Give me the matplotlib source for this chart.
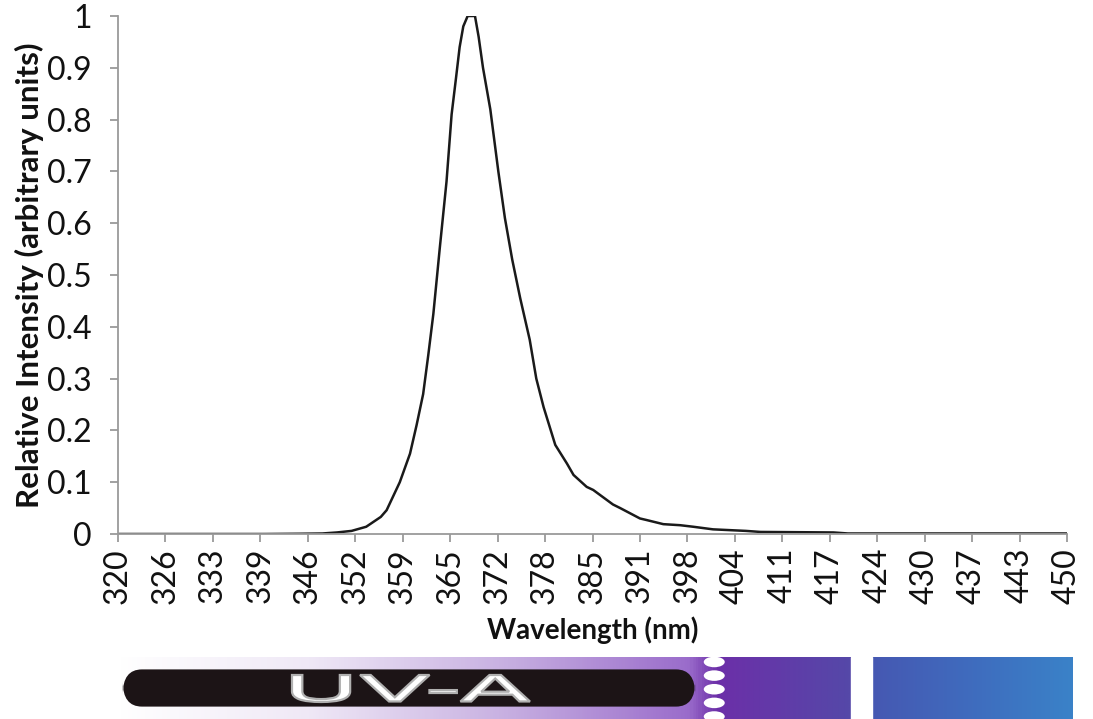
import matplotlib
matplotlib.use("Agg")
import matplotlib.pyplot as plt
import numpy as np
from matplotlib.colors import LinearSegmentedColormap
from matplotlib.patches import FancyBboxPatch, Ellipse, PathPatch
from matplotlib.textpath import TextPath
from matplotlib.font_manager import FontProperties
from matplotlib.transforms import Affine2D, IdentityTransform

plt.rcParams['font.family'] = ['Lato', 'DejaVu Sans']

# spectrum
wavelength = [320, 330, 340, 345, 348, 350, 352, 354, 356, 356.8, 357.6, 358.6, 360, 360.9,
              361.8, 362.5, 363.2, 364.1, 365.0, 365.7, 366.3, 366.8, 367.3, 367.9, 368.9,
              369.4, 370.0, 371.0, 372.1, 373.0, 374.0, 375.1, 376.4, 377.3, 378.3, 379.9,
              381.5, 382.4, 384.2, 385.1, 387.8, 388.8, 391.5, 392.4, 394.7, 397.0, 398.8,
              401.5, 406, 408, 418, 420, 435, 450]
intensity = [0, 0, 0, 0.0005, 0.001, 0.003, 0.006, 0.014, 0.033, 0.046, 0.07, 0.10, 0.155, 0.21,
             0.27, 0.345, 0.425, 0.555, 0.68, 0.81, 0.88, 0.94, 0.98, 1.0, 1.0,
             0.96, 0.90, 0.82, 0.70, 0.61, 0.53, 0.455, 0.375, 0.30, 0.245, 0.172,
             0.136, 0.114, 0.091, 0.085, 0.057, 0.050, 0.030, 0.027, 0.019, 0.017, 0.014,
             0.009, 0.006, 0.004, 0.003, 0.001, 0.001, 0.001]

xtick_pos = [320 + 6.5 * i for i in range(21)]
xtick_labels = ["320", "326", "333", "339", "346", "352", "359", "365", "372", "378", "385",
                "391", "398", "404", "411", "417", "424", "430", "437", "443", "450"]
ytick_pos = [0, 0.1, 0.2, 0.3, 0.4, 0.5, 0.6, 0.7, 0.8, 0.9, 1.0]
ytick_labels = ["0", "0.1", "0.2", "0.3", "0.4", "0.5", "0.6", "0.7", "0.8", "0.9", "1"]

W, H = 1093, 719
fig = plt.figure(figsize=(W / 100, H / 100), dpi=100)

# main plot
ax = fig.add_axes([118 / W, 1 - 534 / H, (1067 - 118) / W, (534 - 16) / H])
ax.plot(wavelength, intensity, color="#1a1a1a", lw=1.8)
ax.set_xlim(320, 450)
ax.set_ylim(0, 1)
ax.set_xticks(xtick_pos)
ax.set_xticklabels(xtick_labels, rotation=90)
ax.set_yticks(ytick_pos)
ax.set_yticklabels(ytick_labels)
for s in ["top", "right"]:
    ax.spines[s].set_visible(False)
for s in ["left", "bottom"]:
    ax.spines[s].set_color("#9a9a9a")
    ax.spines[s].set_linewidth(1.3)
ax.tick_params(axis="both", colors="#9a9a9a", length=6, width=1.3, labelsize=23,
               labelcolor="#111111")
ax.tick_params(axis="y", pad=13)
ax.tick_params(axis="x", pad=4)
ax.set_xlabel("Wavelength (nm)", fontsize=20, fontweight="bold", labelpad=9, color="#111111")
ax.set_ylabel("Relative Intensity (arbitrary units)", fontsize=22.5, fontweight="bold",
              labelpad=2, color="#111111")

# UV spectrum band under the chart
band = fig.add_axes([118 / W, 0, (1072 - 118) / W, (719 - 657) / H])
band.set_xlim(0, 1)
band.set_ylim(0, 1)
band.axis("off")
cmap = LinearSegmentedColormap.from_list("uv", [
    (0.0, "#ffffff"), (0.26, "#efe8f6"), (0.52, "#c9b2e2"), (0.78, "#9a6ccb"),
    (0.82, "#6c2fa8"), (1.0, "#5548a8")])
grad = np.linspace(0, 1, 600).reshape(1, -1)
band.imshow(grad, cmap=cmap, aspect="auto", extent=[0, 0.768, 0, 1], zorder=1)
cmap2 = LinearSegmentedColormap.from_list("blue", ["#4658b2", "#3f6cbe", "#3a82c8"])
band.imshow(grad, cmap=cmap2, aspect="auto", extent=[0.79, 1.0, 0, 1], zorder=1)
band.add_patch(plt.Rectangle((0.768, 0), 0.022, 1, color="white", zorder=2))

pill = FancyBboxPatch((0.005, 0.2), 0.6, 0.6, boxstyle="round,pad=0,rounding_size=0.02",
                      mutation_aspect=20, fc="#1c1416", ec="none", zorder=3)
band.add_patch(pill)
for yy in [0.92, 0.7, 0.48, 0.26, 0.04]:
    band.add_patch(Ellipse((0.625, yy), 0.022, 0.17, fc="white", ec="none", zorder=4))

# wide "UV-A" lettering, stretched to the box it fills in the picture (pixels)
tp = TextPath((0, 0), "UV-A", size=1, prop=FontProperties(family="DejaVu Sans"))
bb = tp.get_extents()
x0, x1, y0, y1 = 292, 530, 17, 44
tr = Affine2D().translate(-bb.x0, -bb.y0).scale((x1 - x0) / bb.width, (y1 - y0) / bb.height) \
    .translate(x0, y0)
fig.patches.append(PathPatch(tr.transform_path(tp), fc="white", ec="#b0b0b0", lw=1.6,
                             transform=IdentityTransform(), zorder=6, figure=fig))

fig.savefig("out.png", dpi=100)
